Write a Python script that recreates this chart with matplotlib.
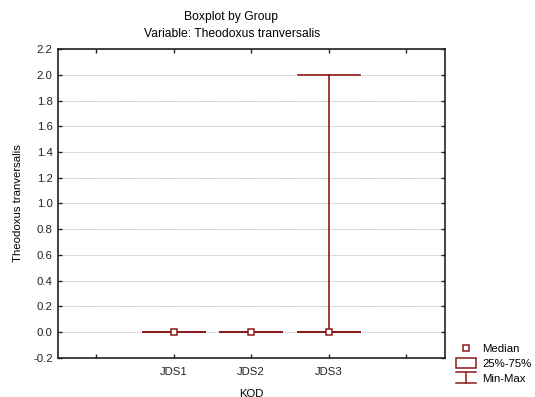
import matplotlib.pyplot as plt
from matplotlib.legend_handler import HandlerBase
from matplotlib.patches import Rectangle
from matplotlib.lines import Line2D

plt.rcParams['font.family'] = ['Liberation Sans', 'DejaVu Sans']

# box statistics per group
groups = ["JDS1", "JDS2", "JDS3"]
medians = [0.0, 0.0, 0.0]
q1 = [0.0, 0.0, 0.0]
q3 = [0.0, 0.0, 0.0]
mins = [0.0, 0.0, 0.0]
maxs = [0.0, 0.0, 2.0]

yticks = [-0.2, 0.0, 0.2, 0.4, 0.6, 0.8, 1.0, 1.2, 1.4, 1.6, 1.8, 2.0, 2.2]

red = "#8b1a1a"

fig = plt.figure(figsize=(5.35, 3.97), dpi=100)
ax = fig.add_axes([0.1075, 0.099, 0.724, 0.777])

stats = []
for i, g in enumerate(groups):
    stats.append(dict(label=g, med=medians[i], q1=q1[i], q3=q3[i],
                      whislo=mins[i], whishi=maxs[i], fliers=[]))

pos = list(range(1, len(groups) + 1))
ax.bxp(stats, positions=pos, widths=0.8, showfliers=False, showcaps=True,
       boxprops=dict(color=red, linewidth=1.2),
       whiskerprops=dict(color=red, linewidth=1.2),
       capprops=dict(color=red, linewidth=1.2),
       medianprops=dict(color=red, linewidth=0),
       capwidths=0.8, zorder=3)
ax.plot(pos, medians, linestyle="none", marker="s", markersize=4,
        markerfacecolor="white", markeredgecolor=red, markeredgewidth=1.1, zorder=4)

ax.set_xlim(-0.5, 4.5)
ax.set_xticks(range(0, 5))
ax.set_xticklabels([""] + groups + [""], fontsize=8.2)
ax.set_ylim(-0.2, 2.2)
ax.set_yticks(yticks)
ax.set_yticklabels(["%.1f" % v for v in yticks], fontsize=8.2)
ax.yaxis.grid(True, linestyle=(0, (1, 1)), color="#aaaaaa", linewidth=0.6)
ax.set_axisbelow(True)
ax.tick_params(direction="in", top=True, right=True, length=3, width=1, colors="#222222")
ax.tick_params(axis="x", pad=7)
for s in ax.spines.values():
    s.set_linewidth(1.2)
    s.set_color("#222222")

ax.set_xlabel("KOD", fontsize=8.2, labelpad=8)
ax.set_ylabel("Theodoxus tranversalis", fontsize=8.2, labelpad=7)
fig.text(0.431, 0.958, "Boxplot by Group", ha="center", va="center", fontsize=8.7)
fig.text(0.433, 0.914, "Variable: Theodoxus tranversalis", ha="center", va="center", fontsize=8.7)


class MedianHandler(HandlerBase):
    def create_artists(self, legend, orig, xd, yd, w, h, fs, trans):
        return [Line2D([xd + w / 2], [yd + h / 2], marker="s", markersize=4,
                       markerfacecolor="white", markeredgecolor=red,
                       markeredgewidth=1.1, linestyle="none", transform=trans)]


class BoxHandler(HandlerBase):
    def create_artists(self, legend, orig, xd, yd, w, h, fs, trans):
        return [Rectangle((xd, yd - 0.8), w, h + 1.6, facecolor="white",
                          edgecolor=red, linewidth=1.1, transform=trans)]


class WhiskerHandler(HandlerBase):
    def create_artists(self, legend, orig, xd, yd, w, h, fs, trans):
        top = yd + h + 1.2
        bot = yd - 1.2
        return [Line2D([xd, xd + w], [top, top], color=red, lw=1.1, transform=trans),
                Line2D([xd + w / 2, xd + w / 2], [bot, top], color=red, lw=1.1, transform=trans),
                Line2D([xd, xd + w], [bot, bot], color=red, lw=1.1, transform=trans)]


h1, h2, h3 = object(), object(), object()
fig.legend([h1, h2, h3], ["Median", "25%-75%", "Min-Max"],
           handler_map={h1: MedianHandler(), h2: BoxHandler(), h3: WhiskerHandler()},
           loc="lower left", bbox_to_anchor=(0.833, 0.008), frameon=False,
           fontsize=8.2, handlelength=1.75, handletextpad=0.55, labelspacing=0.4)

fig.savefig("out.png", dpi=100)
